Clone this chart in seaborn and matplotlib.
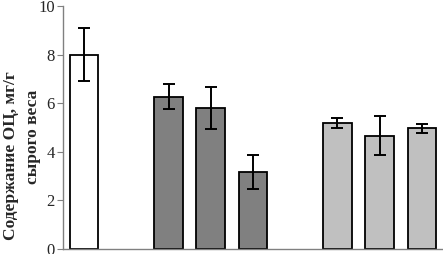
import pandas as pd
import matplotlib.pyplot as plt
import seaborn as sns

# values
samples = ['К', 'А1', 'А2', 'А3', 'Б1', 'Б2', 'Б3']
means = [8.0, 6.27, 5.8, 3.17, 5.2, 4.67, 4.96]
errors = [1.08, 0.52, 0.88, 0.7, 0.2, 0.8, 0.2]
colors = ['#ffffff', '#808080', '#808080', '#808080', '#c0c0c0', '#c0c0c0', '#c0c0c0']
# empty slots between the groups
slot_order = ['К', 'gap1', 'А1', 'А2', 'А3', 'gap2', 'Б1', 'Б2', 'Б3']
ylabel_lines = ['Содержание ОЦ, мг/г', 'сырого веса']

df = pd.DataFrame({'Образец': samples, 'Содержание': means, 'err': errors})

sns.set_style('white')
plt.rcParams['font.family'] = ['Liberation Serif', 'DejaVu Serif']

fig = plt.figure(figsize=(4.43, 2.54), dpi=100)
ax = fig.add_axes([63 / 443, 5 / 254, 1 - 63 / 443, 243 / 254])

sns.barplot(
    data=df, x='Образец', y='Содержание', hue='Образец',
    order=slot_order, hue_order=samples,
    palette=dict(zip(samples, colors)), legend=False,
    width=0.68, edgecolor='black', linewidth=1.3, errorbar=None, ax=ax
)

# error bars centred on the drawn bars
bars = [p for p in ax.patches if p.get_height() > 0]
bars.sort(key=lambda p: p.get_x())
xs = [p.get_x() + p.get_width() / 2 for p in bars]
ax.errorbar(xs, means, yerr=errors, fmt='none', ecolor='black',
            elinewidth=1.4, capsize=4.5, capthick=1.4)

ax.set_xlim(-0.5, len(slot_order) - 0.5)
ax.set_ylim(0, 10)
ax.set_yticks([0, 2, 4, 6, 8, 10])
ax.set_xticks([])
ax.set_xlabel('')
ax.set_ylabel('')
ax.tick_params(axis='y', left=True, length=4, width=0.8, color='#808080',
               labelsize=12, pad=2)

# two-line y label, bold serif
fig.text(11 / 443, 1 - 156 / 254, ylabel_lines[0], rotation=90, fontsize=12.5,
         fontweight='bold', ha='center', va='center')
fig.text(33 / 443, 1 - 137 / 254, ylabel_lines[1], rotation=90, fontsize=12.5,
         fontweight='bold', ha='center', va='center')

for side in ['top', 'right']:
    ax.spines[side].set_visible(False)
for side in ['left', 'bottom']:
    ax.spines[side].set_color('#808080')
    ax.spines[side].set_linewidth(1.0)

fig.savefig('out.png', dpi=100)
